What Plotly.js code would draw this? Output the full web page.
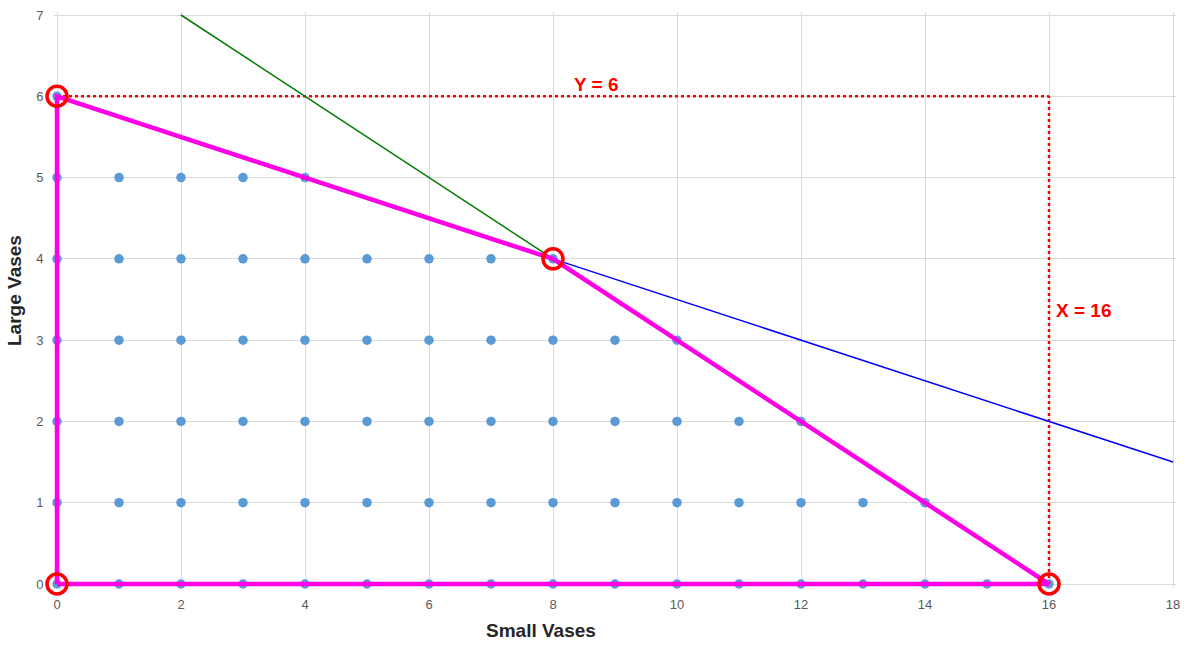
<!DOCTYPE html>
<html>
<head>
<meta charset="utf-8">
<script src="https://cdn.plot.ly/plotly-3.0.1.min.js"></script>
<style>
html,body{margin:0;padding:0;background:#fff;}
#chart{width:1191px;height:645px;}
</style>
</head>
<body>
<div id="chart"></div>
<script>
// Feasible integer points (small vases x, large vases y), read row by row
const dotsX = [0,
  0,1,2,3,4,
  0,1,2,3,4,5,6,7,8,
  0,1,2,3,4,5,6,7,8,9,10,
  0,1,2,3,4,5,6,7,8,9,10,11,12,
  0,1,2,3,4,5,6,7,8,9,10,11,12,13,14,
  0,1,2,3,4,5,6,7,8,9,10,11,12,13,14,15,16];
const dotsY = [6,
  5,5,5,5,5,
  4,4,4,4,4,4,4,4,4,
  3,3,3,3,3,3,3,3,3,3,3,
  2,2,2,2,2,2,2,2,2,2,2,2,2,
  1,1,1,1,1,1,1,1,1,1,1,1,1,1,1,
  0,0,0,0,0,0,0,0,0,0,0,0,0,0,0,0,0];

// Constraint lines
const greenX = [2, 8];   const greenY = [7, 4];
const blueX  = [8, 18];  const blueY  = [4, 1.5];
// Feasible region boundary
const regionX = [0, 0, 8, 16, 0];
const regionY = [0, 6, 4, 0, 0];
// Corner points
const cornerX = [0, 0, 8, 16];
const cornerY = [6, 0, 4, 0];
// Limit lines
const limYX = [0, 16]; const limYY = [6, 6];
const limXX = [16, 16]; const limXY = [0, 6];

const xTicks = [0,2,4,6,8,10,12,14,16,18];
const yTicks = [0,1,2,3,4,5,6,7];

const FONT = 'Liberation Sans, Arial, sans-serif';

const traces = [
  {x: dotsX, y: dotsY, mode: 'markers', type: 'scatter', cliponaxis: false,
   marker: {color: '#5B9BD5', size: 9.5}},
  {x: limYX, y: limYY, mode: 'lines', type: 'scatter', cliponaxis: false,
   line: {color: '#FF0000', width: 2.5, dash: 'dot'}},
  {x: limXX, y: limXY, mode: 'lines', type: 'scatter', cliponaxis: false,
   line: {color: '#FF0000', width: 2.5, dash: 'dot'}},
  {x: greenX, y: greenY, mode: 'lines', type: 'scatter', cliponaxis: false,
   line: {color: '#007A00', width: 1.5}},
  {x: blueX, y: blueY, mode: 'lines', type: 'scatter', cliponaxis: false,
   line: {color: '#0000FF', width: 1.5}},
  {x: regionX, y: regionY, mode: 'lines', type: 'scatter', cliponaxis: false,
   line: {color: '#FF00E6', width: 4.5}},
  {x: cornerX, y: cornerY, mode: 'markers', type: 'scatter', cliponaxis: false,
   marker: {symbol: 'circle-open', color: '#FF0000', size: 20, line: {color: '#FF0000', width: 3.5}}}
];

// pixel geometry: x=0 at 57px, x=18 at 1173px; y=0 at 584px, y=7 at 15px
const padPx = 3;
const xUnit = (1173 - 57) / 18, yUnit = (584 - 15) / 7;
const xPad = padPx / xUnit, yPad = padPx / yUnit;
const mL = 57 - padPx, mR = 1191 - 1173 - padPx, mT = 15 - padPx, mB = 645 - 584 - padPx;
const pw = 1191 - mL - mR, ph = 645 - mT - mB;
const toPX = px => (px - mL) / pw;
const toPY = py => (645 - mB - py) / ph;

const layout = {
  width: 1191, height: 645,
  margin: {l: mL, r: mR, t: mT, b: mB, pad: 0},
  paper_bgcolor: '#ffffff', plot_bgcolor: '#ffffff',
  showlegend: false,
  font: {family: FONT, color: '#595959'},
  xaxis: {range: [-xPad, 18 + xPad], tickvals: xTicks, ticktext: xTicks.map(String),
    showgrid: true, gridcolor: '#D9D9D9', gridwidth: 1, zeroline: false,
    showline: false, ticks: 'outside', ticklen: 5, tickcolor: 'rgba(0,0,0,0)',
    tickfont: {size: 13, color: '#595959', family: FONT}, fixedrange: true},
  yaxis: {range: [-yPad, 7 + yPad], tickvals: yTicks, ticktext: yTicks.map(String),
    showgrid: true, gridcolor: '#D9D9D9', gridwidth: 1, zeroline: false,
    showline: false, ticks: 'outside', ticklen: 7, tickcolor: 'rgba(0,0,0,0)',
    tickfont: {size: 13, color: '#595959', family: FONT}, fixedrange: true},
  annotations: [
    {text: '<b>Y = 6</b>', x: 8.7, y: 6.15, xref: 'x', yref: 'y', showarrow: false,
     xanchor: 'center', yanchor: 'middle',
     font: {size: 19, color: '#FF0000', family: FONT}},
    {text: '<b>X = 16</b>', x: 16.08, y: 3.36, xref: 'x', yref: 'y', xanchor: 'left', yanchor: 'middle',
     showarrow: false, font: {size: 19, color: '#FF0000', family: FONT}},
    {text: '<b>Small Vases</b>', x: toPX(541), y: toPY(630), xref: 'paper', yref: 'paper',
     xanchor: 'center', yanchor: 'middle', showarrow: false,
     font: {size: 19, color: '#262626', family: FONT}},
    {text: '<b>Large Vases</b>', x: toPX(14), y: toPY(291), xref: 'paper', yref: 'paper',
     xanchor: 'center', yanchor: 'middle', showarrow: false, textangle: -90,
     font: {size: 19, color: '#262626', family: FONT}}
  ]
};

Plotly.newPlot('chart', traces, layout, {displayModeBar: false, staticPlot: true});
</script>
</body>
</html>
